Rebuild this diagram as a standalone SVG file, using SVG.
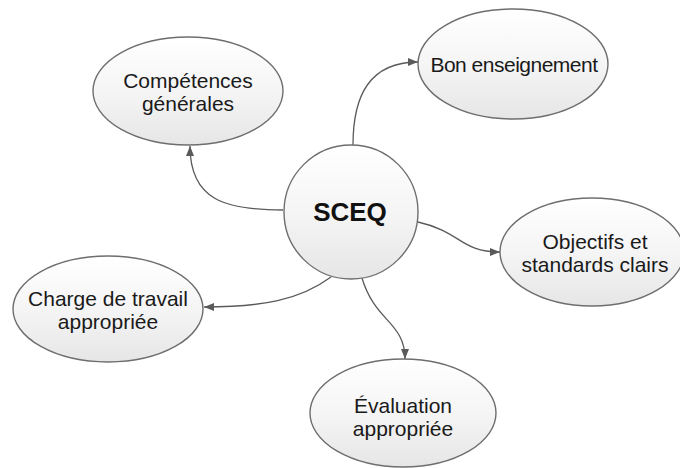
<svg xmlns="http://www.w3.org/2000/svg" width="680" height="468" viewBox="0 0 680 468">
<style>
.node{stroke:#6e6e6e;stroke-width:1.4;fill:url(#g)}
.lbl{font-family:"Liberation Sans",Arial,sans-serif;font-size:21px;fill:#1a1a1a;text-anchor:middle}
.big{font-family:"Liberation Sans",Arial,sans-serif;font-size:26px;font-weight:bold;fill:#111;text-anchor:middle}
.edge{fill:none;stroke:#5a5a5a;stroke-width:1.3;marker-end:url(#arr)}
</style>
<defs>
<linearGradient id="g" x1="0" y1="0" x2="0" y2="1">
<stop offset="0" stop-color="#ffffff"/>
<stop offset="0.5" stop-color="#f5f5f5"/>
<stop offset="1" stop-color="#e6e6e6"/>
</linearGradient>
<marker id="arr" viewBox="0 0 10 10" refX="10" refY="5" markerWidth="10" markerHeight="10" markerUnits="userSpaceOnUse" orient="auto">
<path d="M0,1 L10,5 L0,9 z" fill="#5a5a5a"/>
</marker>
</defs>
<rect width="680" height="468" fill="#ffffff"/>
<g id="connectors">
<path class="edge" d="M283,210 C225,210 190,200 190,146"/>
<path class="edge" d="M353,145 C353,95 370,62 418,62"/>
<path class="edge" d="M418,222 C462,232 460,252 500,252"/>
<path class="edge" d="M331,277 C300,300 262,307 204,307"/>
<path class="edge" d="M362,278 C375,322 405,322 405,359"/>
</g>
<g id="competences">
<ellipse class="node" cx="188" cy="91" rx="95" ry="54"/>
<text class="lbl" x="188" y="88">Compétences</text>
<text class="lbl" x="188" y="111">générales</text>
</g>
<g id="bon">
<ellipse class="node" cx="513" cy="64" rx="95" ry="55"/>
<text class="lbl" x="514" y="72" letter-spacing="-0.5">Bon enseignement</text>
</g>
<g id="objectifs">
<ellipse class="node" cx="592" cy="252" rx="92" ry="54"/>
<text class="lbl" x="595" y="249">Objectifs et</text>
<text class="lbl" x="595" y="272">standards clairs</text>
</g>
<g id="charge">
<ellipse class="node" cx="108" cy="309" rx="95" ry="53"/>
<text class="lbl" x="108" y="306">Charge de travail</text>
<text class="lbl" x="108" y="329">appropriée</text>
</g>
<g id="evaluation">
<ellipse class="node" cx="403" cy="413" rx="93" ry="54"/>
<text class="lbl" x="403" y="413">Évaluation</text>
<text class="lbl" x="403" y="436">appropriée</text>
</g>
<g id="sceq">
<circle class="node" cx="351" cy="212" r="67"/>
<text class="big" x="350" y="221">SCEQ</text>
</g>
</svg>
